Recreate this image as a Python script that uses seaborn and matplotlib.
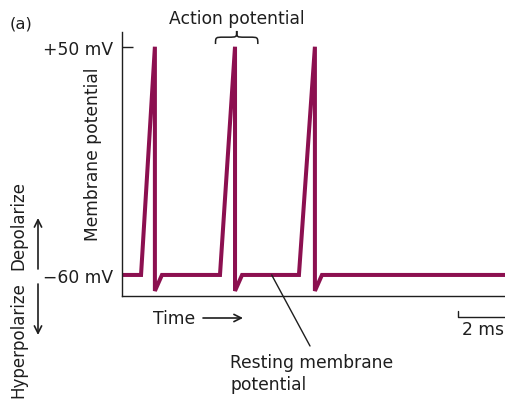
import numpy as np
import pandas as pd
import matplotlib
matplotlib.use("Agg")
import matplotlib.pyplot as plt
from matplotlib.path import Path
from matplotlib.patches import PathPatch
import seaborn as sns

# membrane potential trace (time in ms, voltage in mV)
time_ms = [0.0, 0.81, 1.40, 1.40, 1.70, 4.17, 4.81, 4.81, 5.11,
           7.53, 8.21, 8.21, 8.51, 16.3]
voltage_mv = [-60, -60, 50, -67.7, -60, -60, 50, -67.7, -60,
              -60, 50, -67.7, -60, -60]
tick_values = [-60, 50]
tick_labels = ["\u221260 mV", "+50 mV"]
scale_bar_ms = 2

TRACE = "#8c1050"
INK = "#1e1e1e"
FS = 12.3

sns.set_theme(style="white")
plt.rcParams["font.family"] = ["DejaVu Sans"]

df = pd.DataFrame({"t": time_ms, "v": voltage_mv})

fig = plt.figure(figsize=(5.05, 4.06), dpi=100)
W, H = 505, 406
ax = fig.add_axes([122 / W, 1 - 296.7 / H, 1 - 122 / W, (296.7 - 33) / H])

sns.lineplot(data=df, x="t", y="v", sort=False, estimator=None,
             color=TRACE, lw=2.9, ax=ax)
ax.lines[0].set_solid_joinstyle("miter")

ax.set_xlim(0, 16.3)
ax.set_ylim(-70, 57.1)
ax.set_xlabel("")
ax.set_ylabel("")
ax.set_xticks([])
ax.set_yticks(tick_values)
ax.set_yticklabels(tick_labels, fontsize=FS, color=INK)
ax.tick_params(axis="y", direction="in", length=8, width=1, color=INK, pad=6.5, left=True)
ax.yaxis.get_major_ticks()[0].tick1line.set_visible(False)
sns.despine(ax=ax)
for s in ["left", "bottom"]:
    ax.spines[s].set_linewidth(1.0)
    ax.spines[s].set_color(INK)

# overbrace above the second spike
peak2 = time_ms[6] + 0.07
hw, q = 0.9, 0.35
yb, ym, yt = 51.3, 54.6, 57.6
verts = [(peak2 - hw, yb), (peak2 - hw, ym), (peak2 - hw, ym), (peak2 - hw + q, ym),
         (peak2 - q, ym), (peak2, ym), (peak2, ym), (peak2, yt),
         (peak2, ym), (peak2, ym), (peak2 + q, ym),
         (peak2 + hw - q, ym), (peak2 + hw, ym), (peak2 + hw, ym), (peak2 + hw, yb)]
codes = [Path.MOVETO, Path.CURVE4, Path.CURVE4, Path.CURVE4,
         Path.LINETO, Path.CURVE4, Path.CURVE4, Path.CURVE4,
         Path.CURVE4, Path.CURVE4, Path.CURVE4,
         Path.LINETO, Path.CURVE4, Path.CURVE4, Path.CURVE4]
ax.add_patch(PathPatch(Path(verts, codes), fill=False, lw=1.1, ec=INK, clip_on=False))

# 2 ms scale bar under the right end of the axis
x_end = time_ms[-1]
ax.plot([x_end - scale_bar_ms, x_end - scale_bar_ms, x_end], [-77.4, -80.3, -80.3],
        color=INK, lw=1.0, clip_on=False)
ax.text(x_end - scale_bar_ms / 2 + 0.05, -86.2, f"{scale_bar_ms} ms", fontsize=FS,
        color=INK, ha="center", va="center", clip_on=False)

# labels around the plot (figure pixel coordinates)
def fp(x, y):
    return (x / W, 1 - y / H)

fig.text(*fp(10, 24), "(a)", fontsize=FS - 0.5, color=INK, ha="left", va="center")
fig.text(*fp(237, 19), "Action potential", fontsize=FS, color=INK, ha="center", va="center")
fig.text(*fp(93, 154), "Membrane potential", fontsize=FS, color=INK, rotation=90,
         ha="center", va="center")
fig.text(*fp(18, 225), "Depolarize", fontsize=FS - 0.3, color=INK, rotation=90,
         ha="center", va="center")
fig.text(*fp(18, 340), "Hyperpolarize", fontsize=FS - 0.3, color=INK, rotation=90,
         ha="center", va="center")
fig.text(*fp(153, 319), "Time", fontsize=FS, color=INK, ha="left", va="center")
fig.text(*fp(230, 354), "Resting membrane\npotential", fontsize=FS, color=INK,
         ha="left", va="top", linespacing=1.25)

arrow = dict(arrowstyle="->", lw=1.2, color=INK, mutation_scale=13, shrinkA=0, shrinkB=0)
fig.add_artist(plt.Annotation("", xy=fp(38, 219), xytext=fp(38, 270),
                              xycoords="figure fraction", arrowprops=arrow))
fig.add_artist(plt.Annotation("", xy=fp(38, 336), xytext=fp(38, 285),
                              xycoords="figure fraction", arrowprops=arrow))
fig.add_artist(plt.Annotation("", xy=fp(243, 319), xytext=fp(203, 319),
                              xycoords="figure fraction", arrowprops=arrow))

# pointer from the resting baseline to its label
ax.annotate("", xy=(6.37, -60), xycoords="data", xytext=fp(310, 347),
            textcoords="figure fraction",
            arrowprops=dict(arrowstyle="-", lw=1.0, color=INK, shrinkA=0, shrinkB=0))

fig.savefig("out.png", dpi=100)
